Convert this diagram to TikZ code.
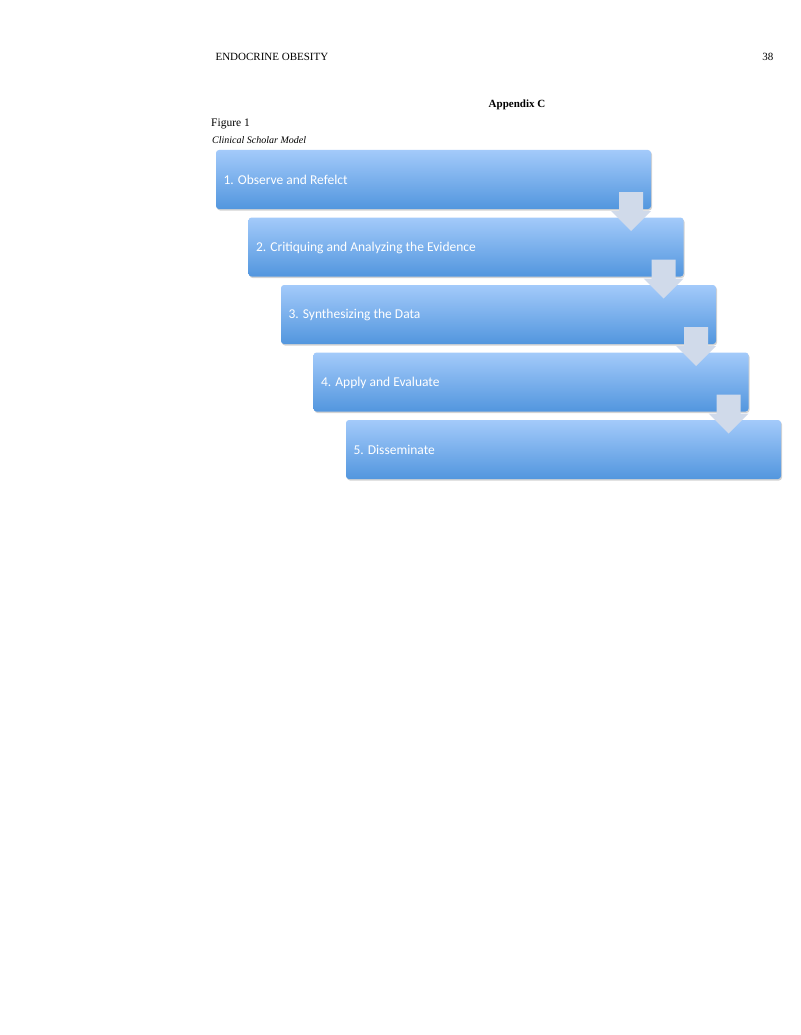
\documentclass[tikz,border=0pt]{standalone}
\usepackage{fontspec}
\setmainfont{Liberation Serif}
\newfontfamily\boxfont{Carlito}
\usetikzlibrary{shadows}
\definecolor{btop}{RGB}{163,202,250}
\definecolor{bbot}{RGB}{82,150,222}
\definecolor{arr}{RGB}{208,218,234}
\tikzset{
  stepbox/.style={rounded corners=3pt,top color=btop,bottom color=bbot,draw=none,
    drop shadow={shadow xshift=1pt,shadow yshift=-1.5pt,opacity=0.35}},
  steptext/.style={anchor=west,text=white,font=\boxfont\fontsize{13.5pt}{15pt}\selectfont},
  downarrow/.style={fill=arr,draw=none}
}
\begin{document}
\begin{tikzpicture}[x=1pt,y=-1pt]
\useasboundingbox (0,0) rectangle (800,1035);
\node[anchor=base west,font=\fontsize{11pt}{13pt}\selectfont] (hdr) at (212,61) {ENDOCRINE OBESITY};
\node[anchor=base east,font=\fontsize{11pt}{13pt}\selectfont] (pg) at (777,61) {38};
\node[anchor=base,font=\bfseries\fontsize{11pt}{13pt}\selectfont] (app) at (517,108) {Appendix C};
\node[anchor=base west,inner sep=0pt,font=\fontsize{11.5pt}{13pt}\selectfont] (fig) at (211,127) {Figure 1};
\node[anchor=base west,inner sep=0pt,font=\itshape\fontsize{10pt}{12pt}\selectfont] (cap) at (212,144) {Clinical Scholar Model};
\foreach \i/\t in {1/{1. Observe and Refelct},2/{2. Critiquing and Analyzing the Evidence},3/{3. Synthesizing the Data},4/{4. Apply and Evaluate},5/{5. Disseminate}}{
  \pgfmathsetmacro{\xx}{216+(\i-1)*32.5}
  \pgfmathsetmacro{\yy}{150+(\i-1)*67.5}
  \path[stepbox] (\xx,\yy) rectangle ++(435,59);
  \node[steptext] (b\i) at (\xx+4,\yy+30) {\t};
}
\foreach \i in {1,2,3,4}{
  \pgfmathsetmacro{\cx}{631+(\i-1)*32.5}
  \pgfmathsetmacro{\ty}{192+(\i-1)*67.5}
  \fill[downarrow] (\cx-12,\ty) -- (\cx+12,\ty) -- (\cx+12,\ty+19) -- (\cx+20,\ty+19) -- (\cx,\ty+39) -- (\cx-20,\ty+19) -- (\cx-12,\ty+19) -- cycle;
}
\end{tikzpicture}
\end{document}
